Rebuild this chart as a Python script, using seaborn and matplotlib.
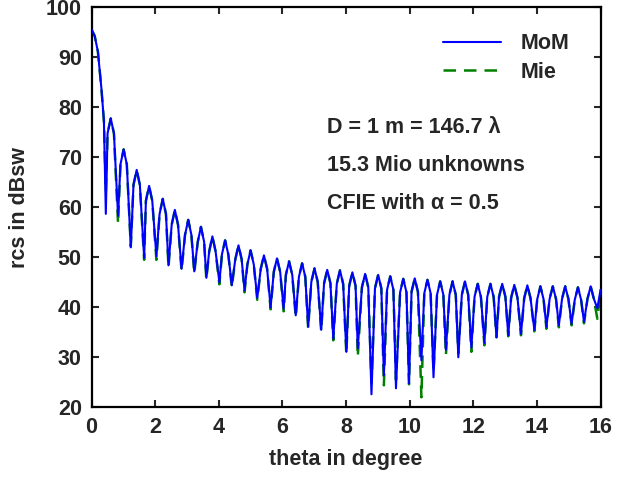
import seaborn as sns
import matplotlib.pyplot as plt
import pandas as pd
import numpy as np

sns.set_style("ticks")
plt.rcParams["font.family"] = ["Liberation Sans", "DejaVu Sans"]
plt.rcParams["font.weight"] = "bold"

# main lobe (shared by both curves)
main_theta = [0.0, 0.1, 0.2, 0.31, 0.39]
main_rcs = [95.6, 94.3, 91.2, 83.9, 77.3]

# sidelobe maxima
peak_theta = [0.605, 1.01, 1.42, 1.81, 2.24, 2.62, 3.04, 3.44, 3.80, 4.20,
              4.62, 5.00, 5.42, 5.83, 6.21, 6.62, 7.01, 7.41, 7.81, 8.20,
              8.60, 9.01, 9.39, 9.80, 10.16, 10.56, 10.96, 11.35, 11.74, 12.14,
              12.54, 12.91, 13.29, 13.70, 14.11, 14.50, 14.89, 15.29, 15.69]
peak_rcs = [77.8, 71.6, 67.5, 64.3, 61.7, 59.5, 57.5, 56.1, 54.2, 53.4,
            52.4, 51.4, 50.4, 49.8, 49.2, 48.8, 47.8, 47.5, 47.4, 47.0,
            46.7, 46.5, 46.2, 45.7, 45.8, 45.5, 45.2, 45.2, 45.2, 44.7,
            44.7, 44.7, 44.5, 44.4, 44.2, 44.2, 44.2, 44.0, 44.2]
# level half way down each lobe (rounded lobe tops)
shoulder_rcs = [74.8, 68.6, 64.5, 61.3, 58.7, 56.5, 54.5, 53.1, 51.2, 50.6,
                49.6, 48.6, 47.7, 47.1, 46.5, 46.1, 45.1, 44.8, 44.7, 44.3,
                44.0, 43.8, 43.5, 43.0, 43.1, 42.8, 42.5, 42.5, 42.5, 42.1,
                42.1, 42.1, 41.9, 41.8, 41.6, 41.7, 41.7, 41.5, 41.7]

# nulls
null_theta = [0.45, 0.835, 1.235, 1.655, 2.04, 2.42, 2.83, 3.23, 3.61, 4.02,
              4.41, 4.81, 5.21, 5.63, 6.04, 6.42, 6.81, 7.22, 7.60, 8.01,
              8.37, 8.80, 9.19, 9.57, 9.98, 10.37, 10.75, 11.14, 11.53, 11.94,
              12.35, 12.73, 13.10, 13.50, 13.92, 14.30, 14.69, 15.09, 15.48, 15.90]
mom_null = [58.7, 58.3, 52.0, 49.9, 50.2, 48.4, 47.7, 47.2, 45.9, 45.0,
            44.4, 43.4, 41.9, 40.0, 39.7, 38.4, 36.1, 35.5, 33.7, 31.1,
            31.8, 22.6, 26.4, 23.8, 24.8, 29.4, 26.0, 31.5, 30.0, 31.9,
            32.9, 34.0, 34.4, 34.7, 35.5, 36.1, 36.4, 36.7, 37.1, 39.8]
mie_null = [63.2, 56.7, 52.2, 49.5, 49.5, 48.0, 47.3, 46.8, 45.6, 44.6,
            44.0, 43.0, 41.5, 39.6, 39.2, 38.0, 35.8, 35.2, 33.4, 30.6,
            30.1, 24.8, 24.4, 25.5, 24.6, 22.0, 27.0, 30.4, 30.8, 31.1,
            32.4, 34.0, 34.2, 34.4, 35.2, 35.7, 36.0, 36.4, 36.8, 37.7]

end_theta = [16.0]
end_rcs = [43.5]


def build(nulls):
    th = list(main_theta)
    v = list(main_rcs)
    for i in range(len(null_theta)):
        th.append(null_theta[i])
        v.append(nulls[i])
        if i < len(peak_theta):
            p = peak_theta[i]
            th += [p - 0.1, p, p + 0.1]
            v += [shoulder_rcs[i], peak_rcs[i], shoulder_rcs[i]]
    th += end_theta
    v += end_rcs
    return pd.DataFrame({"theta": th, "rcs": v})


mom = build(mom_null)
mie = build(mie_null)

fig = plt.figure(figsize=(6.17, 4.79), dpi=100)
ax = fig.add_axes([0.1483, 0.1497, 0.8250, 0.8348])

sns.lineplot(data=mie, x="theta", y="rcs", ax=ax, color="#008000", lw=1.8,
             linestyle=(0, (5, 3.2)), estimator=None, sort=False, label="Mie", zorder=2)
sns.lineplot(data=mom, x="theta", y="rcs", ax=ax, color="#0000ff", lw=1.5,
             estimator=None, sort=False, label="MoM", zorder=3)
for ln in ax.lines:
    ln.set_solid_joinstyle("round")
    ln.set_dash_joinstyle("round")

ax.set_xlim(0, 16)
ax.set_ylim(20, 100)
ax.set_xticks(range(0, 17, 2))
ax.set_yticks(range(20, 101, 10))
ax.tick_params(direction="in", length=5, width=1.5, labelsize=15.5, pad=7,
               top=True, right=True)
for s in ax.spines.values():
    s.set_linewidth(1.6)
    s.set_color("black")

ax.set_xlabel("theta in degree", fontsize=15.5, fontweight="bold")
ax.set_ylabel("rcs in dBsw", fontsize=15.5, fontweight="bold")
ax.xaxis.set_label_coords(0.5, -0.105)
ax.yaxis.set_label_coords(-0.12, 0.5)

h, l = ax.get_legend_handles_labels()
ax.legend(h[::-1], l[::-1], loc="upper left", bbox_to_anchor=(0.69, 0.935),
          frameon=False, handlelength=2.7, handletextpad=0.9,
          borderaxespad=0, borderpad=0, labelspacing=0.35,
          prop={"weight": "bold", "size": 15.5})

ax.text(7.41, 75.9, "D = 1 m = 146.7 λ", fontsize=15.5, fontweight="bold", va="center")
ax.text(7.41, 68.3, "15.3 Mio unknowns", fontsize=15.5, fontweight="bold", va="center")
ax.text(7.41, 60.8, "CFIE with α = 0.5", fontsize=15.5, fontweight="bold", va="center")

fig.savefig("out.png", dpi=100)
